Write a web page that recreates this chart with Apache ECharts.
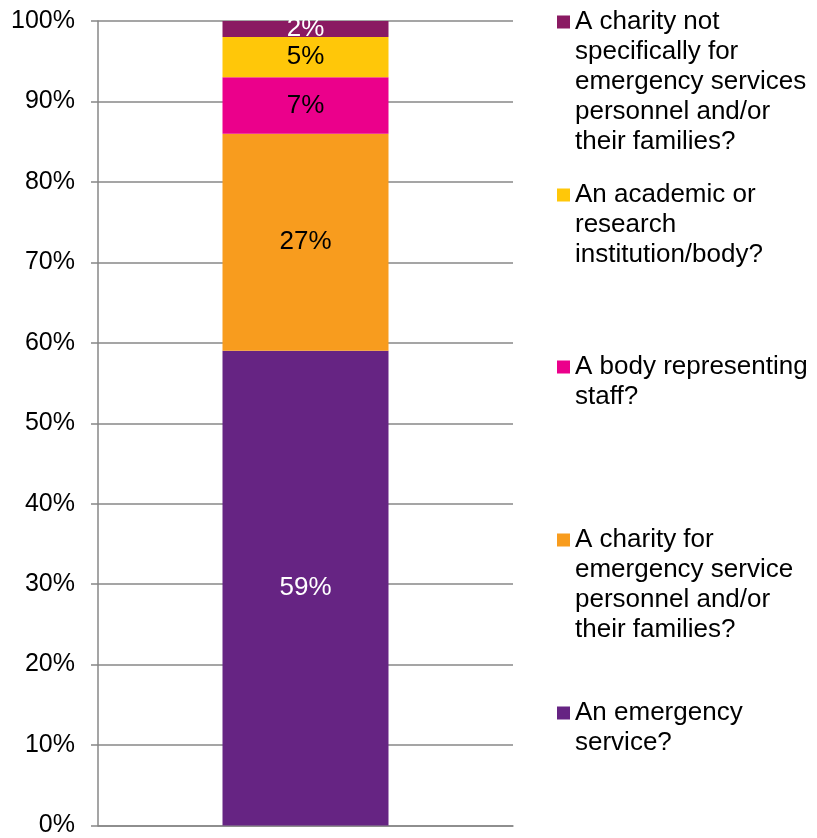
<!DOCTYPE html>
<html>
<head>
<meta charset="utf-8">
<script src="https://cdn.jsdelivr.net/npm/echarts@6/dist/echarts.min.js"></script>
<style>
  html, body { margin: 0; padding: 0; background: #fff; }
  #chart { width: 817px; height: 838px; }
</style>
</head>
<body>
<div id="chart"></div>
<script>
// Stacked shares, listed from the bottom segment upward
var seriesNames = [
  'An emergency service?',
  'A charity for emergency service personnel and/or their families?',
  'A body representing staff?',
  'An academic or research institution/body?',
  'A charity not specifically for emergency services personnel and/or their families?'
];
var seriesValues = [59, 27, 7, 5, 2];
var categories = ['Organisation'];
var yTicks = [0, 10, 20, 30, 40, 50, 60, 70, 80, 90, 100];

// Wrapped legend text for each series (same order as seriesNames)
var legendLines = [
  ['An emergency', 'service?'],
  ['A charity for', 'emergency service', 'personnel and/or', 'their families?'],
  ['A body representing', 'staff?'],
  ['An academic or', 'research', 'institution/body?'],
  ['A charity not', 'specifically for', 'emergency services', 'personnel and/or', 'their families?']
];

var colors = ['#662483', '#F89C1E', '#EB008B', '#FFC709', '#8A1A62'];
var labelColors = ['#ffffff', '#000000', '#000000', '#000000', '#ffffff'];
var FONT = '"Liberation Sans", Arial, sans-serif';
var LINE_H = 30;
var SWATCH = 13;
// vertical centre of each legend swatch, in series order
var legendCentres = [713, 540, 367, 195, 22];

// Swatch icon as tall as the whole text block, with the visible square
// placed beside the first line (zero-area corners fix the bounds).
function swatchPath(blockH) {
  var y0 = (LINE_H - SWATCH) / 2, y1 = y0 + SWATCH;
  return 'path://M0,0L' + SWATCH + ',0L' + SWATCH + ',0Z' +
    'M0,' + y0 + 'L' + SWATCH + ',' + y0 + 'L' + SWATCH + ',' + y1 + 'L0,' + y1 + 'Z' +
    'M0,' + blockH + 'L' + SWATCH + ',' + blockH + 'L' + SWATCH + ',' + blockH + 'Z';
}

var chart = echarts.init(document.getElementById('chart'), null, { renderer: 'canvas' });

var series = seriesNames.map(function (name, i) {
  return {
    name: name,
    type: 'bar',
    stack: 'total',
    barWidth: '40%',
    data: [seriesValues[i]],
    itemStyle: { color: colors[i] },
    label: {
      show: true,
      position: 'inside',
      formatter: '{c}%',
      color: labelColors[i],
      fontFamily: FONT,
      fontSize: 26
    }
  };
});

var legends = seriesNames.map(function (name, i) {
  var blockH = legendLines[i].length * LINE_H;
  return {
    orient: 'vertical',
    left: 557,
    top: legendCentres[i] - LINE_H / 2,
    padding: 0,
    itemWidth: SWATCH,
    itemHeight: blockH,
    itemGap: 0,
    icon: swatchPath(blockH),
    selectedMode: false,
    data: [name],
    formatter: function () { return legendLines[i].join('\n'); },
    textStyle: {
      fontFamily: FONT,
      fontSize: 26,
      lineHeight: LINE_H,
      color: '#000'
    }
  };
});

chart.setOption({
  animation: false,
  backgroundColor: '#ffffff',
  grid: { left: 98, right: 304, top: 21, bottom: 10, containLabel: false },
  legend: legends,
  xAxis: {
    type: 'category',
    data: categories,
    axisLine: { show: true, lineStyle: { color: '#878787', width: 1.5 } },
    axisTick: { show: false },
    axisLabel: { show: false }
  },
  yAxis: {
    type: 'value',
    min: yTicks[0],
    max: yTicks[yTicks.length - 1],
    interval: yTicks[1] - yTicks[0],
    axisLine: { show: true, lineStyle: { color: '#878787', width: 1.5 } },
    axisTick: { show: true, length: 7, lineStyle: { color: '#878787', width: 1.5 } },
    splitLine: { show: true, lineStyle: { color: '#878787', width: 1.5 } },
    axisLabel: {
      formatter: '{value}%',
      color: '#000',
      fontFamily: FONT,
      fontSize: 25,
      margin: 23
    }
  },
  series: series
});
</script>
</body>
</html>
